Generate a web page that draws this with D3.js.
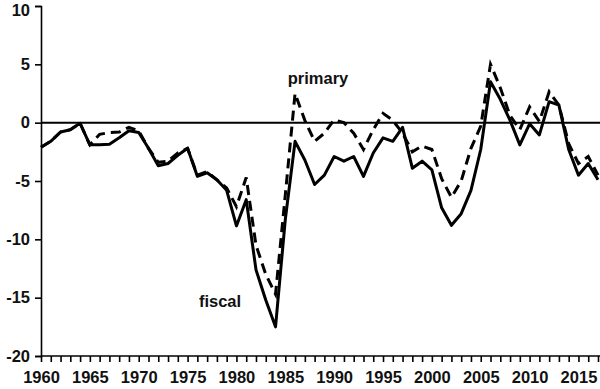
<!DOCTYPE html>
<html>
<head>
	<meta charset="utf-8">
	<script src="https://d3js.org/d3.v7.min.js"></script>
	<style>
		body { margin: 0; background: #fff; }
		text { font-family: "Liberation Sans", Arial, sans-serif; font-weight: bold; fill: #111; }
	</style>
</head>
<body>
	<script type="text/javascript">

		//years on the category axis
		var years = d3.range(1960, 2018);

		//fiscal balance, % (solid)
		var fiscal = [-2.1, -1.6, -0.8, -0.6, -0.05, -1.9, -1.9, -1.85, -1.3, -0.7,
			-0.85, -2.2, -3.7, -3.5, -2.8, -2.2, -4.6, -4.3, -4.9, -5.8,
			-8.85, -6.6, -12.6, -15.2, -17.5, -8.3, -1.6, -3.2, -5.3, -4.5,
			-2.9, -3.3, -2.9, -4.6, -2.6, -1.3, -1.6, -0.4, -3.9, -3.3,
			-4.05, -7.3, -8.8, -7.8, -5.8, -2.3, 3.5, 2.0, 0.2, -1.9,
			-0.1, -1.05, 1.8, 1.5, -2.3, -4.5, -3.5, -4.9];

		//primary balance, % (dashed)
		var primary = [-2.1, -1.6, -0.8, -0.6, -0.05, -1.9, -1.0, -0.85, -0.8, -0.4,
			-0.7, -2.2, -3.4, -3.3, -2.6, -2.2, -4.5, -4.2, -4.9, -5.6,
			-7.2, -4.7, -10.5, -13.0, -14.7, -6.2, 2.5, 0.2, -1.6, -0.9,
			0.25, 0.0, -0.9, -2.3, -0.6, 0.8, 0.2, -0.9, -2.5, -2.0,
			-2.3, -4.8, -6.4, -5.0, -2.2, -0.3, 5.0, 3.0, 0.6, -0.6,
			1.35, 0.1, 2.65, 1.5, -1.8, -3.5, -2.9, -4.5];

		var yTicks = [-20, -15, -10, -5, 0, 5, 10];

		var w = 600;
		var h = 389;

		var svg = d3.select("body")
				.append("svg")
				.attr("width", w)
				.attr("height", h);

		//scales
		var xScale = d3.scaleLinear()
						.domain([1960, 2017])
						.range([41, 598]);

		var yScale = d3.scaleLinear()
						.domain([-20, 10])
						.range([356, 6]);

		//zero line
		svg.append("line")
			.attr("x1", 41)
			.attr("x2", w)
			.attr("y1", yScale(0))
			.attr("y2", yScale(0))
			.attr("stroke", "#000")
			.attr("stroke-width", 2);

		//y axis, plain hyphen for the minus sign like the original
		var yAxis = svg.append("g")
			.attr("transform", "translate(41,0)")
			.call(d3.axisLeft(yScale)
				.tickValues(yTicks)
				.tickSize(6)
				.tickPadding(5)
				.tickFormat(function(d){ return String(d); }));

		//top label sits right on the edge, push it down a bit
		yAxis.selectAll(".tick text")
			.filter(function(d){ return d === 10; })
			.attr("dy", "0.55em");

		//x axis, a tick every year, a label every 5
		var xAxis = svg.append("g")
			.attr("transform", "translate(0," + yScale(-20) + ")")
			.call(d3.axisBottom(xScale)
				.tickValues(years)
				.tickSize(6)
				.tickPadding(9)
				.tickFormat(function(d){ return d % 5 === 0 ? String(d) : ""; }));

		xAxis.select(".domain").attr("d", "M41,0H" + w);

		svg.selectAll(".domain, .tick line")
			.attr("stroke", "#000")
			.attr("stroke-width", 1.6);

		svg.selectAll(".tick text")
			.attr("fill", "#111")
			.style("font-size", "16.5px")
			.style("font-family", "'Liberation Sans', Arial, sans-serif")
			.style("font-weight", "bold");

		//lines
		var line = d3.line()
			.x(function(d, i){ return xScale(years[i]); })
			.y(function(d){ return yScale(d); });

		svg.append("path")
			.datum(fiscal)
			.attr("d", line)
			.attr("fill", "none")
			.attr("stroke", "#000")
			.attr("stroke-width", 3)
			.attr("stroke-linejoin", "round");

		svg.append("path")
			.datum(primary)
			.attr("d", line)
			.attr("fill", "none")
			.attr("stroke", "#000")
			.attr("stroke-width", 3)
			.attr("stroke-dasharray", "10,6");

		//series labels
		svg.append("text")
			.attr("x", 318)
			.attr("y", 84)
			.attr("text-anchor", "middle")
			.style("font-size", "16.5px")
			.text("primary");

		svg.append("text")
			.attr("x", 220)
			.attr("y", 307)
			.attr("text-anchor", "middle")
			.style("font-size", "16.5px")
			.text("fiscal");

	</script>
</body>
</html>
